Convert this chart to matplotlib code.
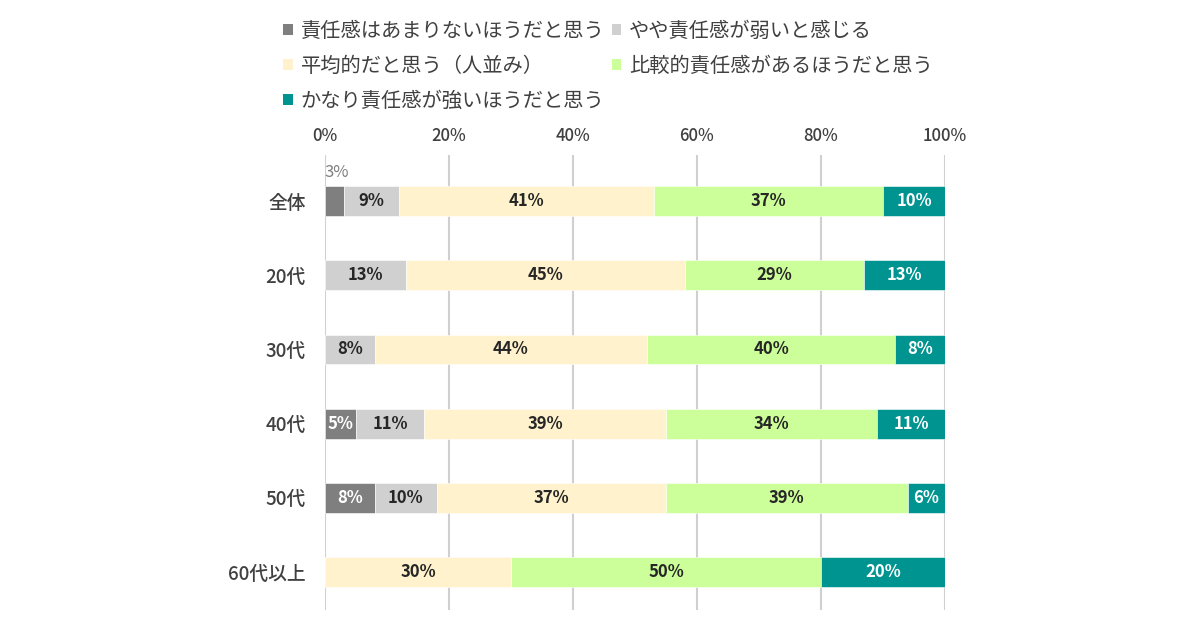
import numpy as np
import matplotlib.pyplot as plt
from matplotlib.patches import Patch

plt.rcParams['font.family'] = ['Noto Sans CJK JP', 'DejaVu Sans']

categories = ['全体', '20代', '30代', '40代', '50代', '60代以上']
series = ['責任感はあまりないほうだと思う', 'やや責任感が弱いと感じる', '平均的だと思う（人並み）',
          '比較的責任感があるほうだと思う', 'かなり責任感が強いほうだと思う']
values = [
    [3, 0, 0, 5, 8, 0],
    [9, 13, 8, 11, 10, 0],
    [41, 45, 44, 39, 37, 30],
    [37, 29, 40, 34, 39, 50],
    [10, 13, 8, 11, 6, 20],
]
colors = ['#7f7f7f', '#d0d0d0', '#fff2cc', '#ccff99', '#009490']
text_colors = ['white', '#262626', '#262626', '#262626', 'white']
xticks = [0, 20, 40, 60, 80, 100]

fig = plt.figure(figsize=(12, 6.3), dpi=100)
ax = fig.add_axes([0.2708, 0.0317, 0.5167, 0.7223])

y = np.arange(len(categories))
left = np.zeros(len(categories))
for i, vals in enumerate(values):
    vals = np.array(vals, dtype=float)
    ax.barh(y, vals, left=left, height=0.4, color=colors[i], zorder=3,
            edgecolor='white', linewidth=0.4)
    for j, v in enumerate(vals):
        if v <= 0:
            continue
        if j == 0 and i == 0:
            # small slice: label above the bar
            ax.text(left[j], y[j] - 0.27, f'{v:.0f}%', ha='left', va='bottom',
                    fontsize=12, color='#7f7f7f', zorder=4)
        else:
            ax.text(left[j] + v / 2, y[j], f'{v:.0f}%', ha='center', va='center',
                    fontsize=12, fontweight='bold', color=text_colors[i], zorder=4)
    left += vals

ax.set_xlim(0, 100)
ax.set_ylim(5.51, -0.62)
ax.xaxis.tick_top()
ax.set_xticks(xticks)
ax.set_xticklabels([f'{t}%' for t in xticks], fontsize=12, color='#404040', fontweight='medium')
ax.set_yticks(y)
ax.set_yticklabels(categories, fontsize=13.5, color='#404040', fontweight='medium')
ax.tick_params(length=0)
ax.tick_params(axis='x', pad=7)
ax.tick_params(axis='y', pad=14)
ax.grid(axis='x', color='#d0d0d0', linewidth=1.5, zorder=0)
for s in ax.spines.values():
    s.set_visible(False)

handles = [Patch(facecolor=c, edgecolor='none') for c in colors]
order = [0, 2, 4, 1, 3]
fig.legend([handles[k] for k in order], [series[k] for k in order], ncol=2,
           loc='upper left', bbox_to_anchor=(0.221, 0.996), frameon=False,
           prop={'size': 14.6}, handlelength=0.45, handleheight=0.45,
           handletextpad=0.4, columnspacing=0.35, labelspacing=0.7,
           labelcolor='#404040')

fig.savefig('out.png', dpi=100)
